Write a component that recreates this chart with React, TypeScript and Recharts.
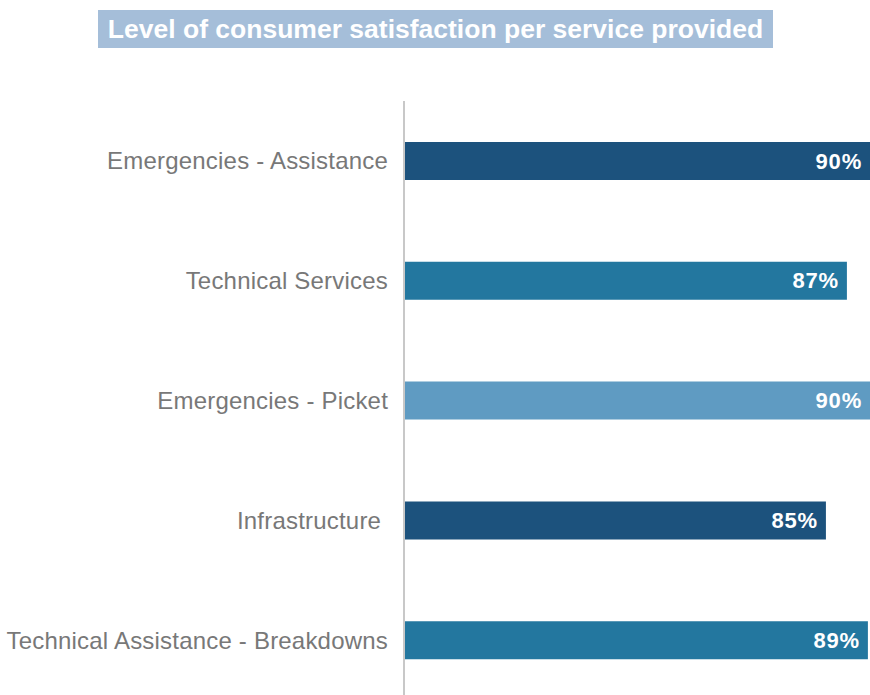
import { BarChart, Bar, XAxis, YAxis, Cell, LabelList } from 'recharts'

const categories = [
  'Emergencies - Assistance',
  'Technical Services',
  'Emergencies - Picket',
  'Infrastructure\u00a0',
  'Technical Assistance - Breakdowns',
]
const satisfaction = [90, 87, 90, 85, 89]
const valueLabels = ['90%', '87%', '90%', '85%', '89%']

const barColors = ['#1c527d', '#23779f', '#5f9bc2', '#1c527d', '#23779f']
const PLOT_RIGHT = 870

const chartData = categories.map((name, i) => ({ name, value: satisfaction[i] }))

function ValueLabel(props: any) {
  const { x, y, width, height, index } = props
  const right = Math.min(Number(x) + Number(width), PLOT_RIGHT) - 8
  return (
    <text
      x={right}
      y={Number(y) + Number(height) / 2}
      textAnchor="end"
      dominantBaseline="central"
      fill="#ffffff"
      style={{ fontFamily: '"Liberation Sans", Arial, sans-serif', fontWeight: 700, fontSize: '22px', letterSpacing: '0.8px' }}
    >
      {valueLabels[index]}
    </text>
  )
}

export default function App() {
  return (
    <div style={{ position: 'absolute', left: 0, top: 0, width: 870, height: 695, overflow: 'hidden', background: '#ffffff' }}>
      <div style={{
        position: 'absolute',
        left: 98,
        top: 10,
        width: 675,
        height: 38,
        background: '#a5bed9',
        color: '#ffffff',
        fontFamily: '"Liberation Sans", Arial, sans-serif',
        fontWeight: 700,
        fontSize: '26.5px',
        lineHeight: '38px',
        textAlign: 'center',
        whiteSpace: 'nowrap',
      }}>
        Level of consumer satisfaction per service provided
      </div>
      <BarChart
        layout="vertical"
        width={870}
        height={700}
        data={chartData}
        margin={{ top: 101, right: 0, bottom: 0, left: 0 }}
      >
        <XAxis type="number" hide domain={[44.8, 89.2]} allowDataOverflow />
        <YAxis
          type="category"
          dataKey="name"
          width={404}
          tickLine={false}
          tickSize={0}
          tickMargin={16}
          axisLine={{ stroke: '#c8c8c8', strokeWidth: 2 }}
          tick={{ fill: '#787878', fontSize: 24, letterSpacing: 0.2, fontFamily: '"Liberation Sans", Arial, sans-serif' }}
          interval={0}
        />
        <Bar dataKey="value" barSize={38} isAnimationActive={false}>
          {chartData.map((d, i) => (
            <Cell key={d.name} fill={barColors[i]} />
          ))}
          <LabelList dataKey="value" content={<ValueLabel />} />
        </Bar>
      </BarChart>
    </div>
  )
}
